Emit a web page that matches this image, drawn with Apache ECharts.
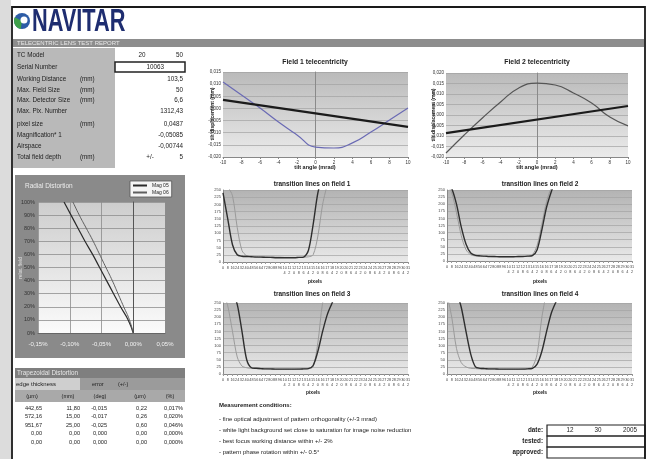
<!DOCTYPE html>
<html><head><meta charset="utf-8">
<script src="https://cdn.jsdelivr.net/npm/echarts@6/dist/echarts.min.js"></script>
<style>html,body{margin:0;padding:0;background:#fff}#c{width:650px;height:459px}</style>
</head><body><div id="c"></div>
<script>
const FONT = 'Liberation Sans';

// ---------- data ----------
const specLabels = ['TC Model','Serial Number','Working Distance','Max. Field Size','Max. Detector Size','Max. Pix. Number','pixel size','Magnification* 1','Airspace','Total field depth'];
const specUnits  = ['','','(mm)','(mm)','(mm)','','(mm)','','','(mm)'];
const specExtra  = ['20','','','','','','','','','+/-'];
const specValues = ['50','10063','103,5','50','6,6','1312,43','0,0487','-0,05085','-0,00744','5'];

const fieldPct = [0,10,20,30,40,50,60,70,80,90,100];
const radialA  = [0,-0.008,-0.020,-0.031,-0.042,-0.053,-0.064,-0.076,-0.087,-0.098,-0.109];
const radialB  = [0,-0.006,-0.015,-0.024,-0.033,-0.043,-0.053,-0.063,-0.074,-0.085,-0.095];
const radialNames = ['Mag 05','Mag 06'];

const tiltAngle   = [-10,-8,-6,-4,-2,0,2,4,6,8,10];
const field1Curve = [0.0109,0.0055,0.0002,-0.0056,-0.0109,-0.0159,-0.0163,-0.0142,-0.0097,-0.0048,0.0002];
const field1FitEnds = [0.0035,-0.0076];
const field2Curve = [-0.0181,-0.0095,-0.0014,0.0062,0.0129,0.0152,0.0143,0.0105,0.0057,-0.0010,-0.0052];
const field2FitEnds = [-0.0086,0.0043];

const pixelCats = [0,8,16,24,32,40,48,56,64,72,80,88,96,104,112,120,128,136,144,152,160,168,176,184,192,200,208,216,224,232,240,248,256,264,272,280,288,296,304,312];
const t1Dark  = [240,150,60,25,20,19,18,17,17,16,16,15,15,15,15,15,16,17,40,130,240,300];
const t1Light = [290,262,230,120,40,22,20,19,18,18,17,17,17,16,16,16,16,17,18,25,90,200,270];
const t2Dark  = [280,255,200,120,60,28,20,18,17,16,16,15,15,15,15,16,16,17,19,40,110,190,245,290];
const t2Light = [270,240,170,90,40,22,18,17,16,16,15,15,15,15,15,15,16,17,22,55,130,210,260,300];
const t3Dark  = [null,null,290,245,150,50,22,20,19,18,18,17,17,17,17,17,17,18,19,30,80,150,210,250,290];
const t3Light = [290,240,150,60,28,22,20,19,18,18,17,17,17,17,17,17,18,18,20,25,110,250,300];
const t4Dark  = [null,null,290,235,150,70,25,20,19,18,18,17,17,17,17,17,17,18,20,35,80,150,215,255,290];
const t4Light = [280,200,90,40,25,20,19,18,18,17,17,17,17,17,17,17,18,19,25,70,200,290];

const trapThickness = [442.65,572.16,951.67,0,0];
const trapEdge      = [11.80,15.00,25.00,0,0];
const trapAngle     = [-0.015,-0.017,-0.025,0,0];
const trapError     = [0.22,0.26,0.60,0,0];
const trapPct       = [0.017,0.020,0.046,0,0];

const conditions = ['Measurement conditions:',
 '- fine optical adjustment of pattern orthogonality (+/-3 mrad)',
 '- white light background set close to saturation for image noise reduction',
 '- best focus working distance within +/- 2%',
 '- pattern phase rotation within +/- 0.5\u00b0'];
const dateParts = ['12','30','2005'];

// ---------- helpers ----------
const comma = (v,d)=> (Math.abs(v) < 1e-12 ? 0 : v).toFixed(d).replace('.',',');
const g = [];
function txt(x,y,s,o){ g.push({type:'text', x:x, y:y, z:100, silent:true, style:Object.assign({text:s, fontFamily:FONT, fontSize:6, fill:'#222', align:'left', verticalAlign:'middle'}, o||{})}); }
function rect(x,y,w,h,style,z){ g.push({type:'rect', z:(z===undefined?-20:z), silent:true, shape:{x:x,y:y,width:w,height:h}, style:style}); }
function grad(a,b){ return {type:'linear',x:0,y:0,x2:0,y2:1,colorStops:[{offset:0,color:a},{offset:1,color:b}]}; }
const pairs = (xs,ys)=> xs.map((x,i)=>[x,ys[i]]);

// ---------- page decoration ----------
rect(0,0,11,459,{fill:'#dcdcdc'});
rect(12,7,633,460,{fill:'none',stroke:'#1a1a1a',lineWidth:1.8},50);
// logo
g.push({type:'circle', z:60, shape:{cx:22,cy:21,r:8}, style:{fill:'#2d5ca6'}});
g.push({type:'sector', z:61, shape:{cx:22,cy:21,r:8,r0:0,startAngle:Math.PI*0.55,endAngle:Math.PI*1.15}, style:{fill:'#3fa14a'}});
g.push({type:'circle', z:62, shape:{cx:24,cy:20,r:3.5}, style:{fill:'#ffffff'}});
g.push({type:'text', x:32, y:22, z:60, scaleX:0.68, style:{text:'NAVITAR', fontFamily:FONT, fontWeight:'bold', fontSize:32, fill:'#1e2d70', align:'left', verticalAlign:'middle'}});
rect(13,39,631,8,{fill:'#8d8d8d'});
txt(17,43.2,'TELECENTRIC LENS TEST REPORT',{fill:'#e8e8e8',fontSize:6});

// spec table
rect(13,48,102,120,{fill:'#b9b9b9'});
rect(115,62,70,10,{fill:'#ffffff',stroke:'#222',lineWidth:1.5},40);
const rowY = [55,67.5,79,90,100,111,124,135,146,157];
specLabels.forEach((l,i)=>{
  txt(17,rowY[i],l,{fontSize:6.3});
  if (specUnits[i]) txt(80,rowY[i],specUnits[i],{fontSize:6.3});
  if (specExtra[i]) txt(i===0?142:150,rowY[i],specExtra[i],{fontSize:6.3,align:'center'});
  txt(i===1?164:183,rowY[i],specValues[i],{fontSize:6.3,align:'right'});
});

// radial panel
rect(15,175,170,183,{fill:'#8a8a8a'});
txt(25,186,'Radial Distortion',{fill:'#ececec',fontSize:6.5});
txt(21,268,'relat. field',{fill:'#e0e0e0',fontSize:5,align:'center'});
g[g.length-1].rotation = Math.PI/2;

// telecentricity texts
txt(315,62,'Field 1 telecentricity',{fontSize:6.8,fontWeight:'bold',align:'center'});
txt(537,62,'Field 2 telecentricity',{fontSize:6.8,fontWeight:'bold',align:'center'});
txt(315,167,'tilt angle (mrad)',{fontSize:5.5,fontWeight:'bold',align:'center'});
txt(537,167,'tilt angle (mrad)',{fontSize:5.5,fontWeight:'bold',align:'center'});
txt(213,114,'tilt displacement (mm)',{fontSize:5,fontWeight:'bold',align:'center'});
g[g.length-1].rotation = Math.PI/2;
txt(434,115,'tilt displacement (mm)',{fontSize:5,fontWeight:'bold',align:'center'});
g[g.length-1].rotation = Math.PI/2;

// transition texts
txt(312,184,'transition lines on field 1',{fontSize:6.5,fontWeight:'bold',align:'center'});
txt(540,184,'transition lines on field 2',{fontSize:6.5,fontWeight:'bold',align:'center'});
txt(312,294,'transition lines on field 3',{fontSize:6.5,fontWeight:'bold',align:'center'});
txt(540,294,'transition lines on field 4',{fontSize:6.5,fontWeight:'bold',align:'center'});
txt(315,282,'pixels',{fontSize:5,fontWeight:'bold',align:'center'});
txt(540,282,'pixels',{fontSize:5,fontWeight:'bold',align:'center'});
txt(313,393,'pixels',{fontSize:5,fontWeight:'bold',align:'center'});
txt(540,393,'pixels',{fontSize:5,fontWeight:'bold',align:'center'});

// trapezoidal table
rect(15,368,170,10,{fill:'#7f7f7f'});
rect(15,378,65,12,{fill:'#cfcfcf'});
rect(80,378,105,12,{fill:'#9b9b9b'});
rect(15,390,170,12,{fill:'#a9a9a9'});
txt(17,373,'Trapezoidal Distortion',{fill:'#e6e6e6',fontSize:6.3});
txt(16,384,'edge thickness',{fontSize:6});
txt(92,384,'error',{fontSize:5.5});
txt(118,384,'(+/-)',{fontSize:5.5});
const unitX = [32,68,100,140,170];
['(\u00b5m)','(mm)','(deg)','(\u00b5m)','(%)'].forEach((u,i)=>txt(unitX[i],396,u,{fontSize:5.5,align:'center'}));
const colR = [42,80,107,147,183];
const tRowY = [408,416.5,425,433.5,442];
trapThickness.forEach((v,i)=>{
  txt(colR[0],tRowY[i],comma(v,2),{fontSize:5.6,align:'right'});
  txt(colR[1],tRowY[i],comma(trapEdge[i],2),{fontSize:5.6,align:'right'});
  txt(colR[2],tRowY[i],comma(trapAngle[i],3),{fontSize:5.6,align:'right'});
  txt(colR[3],tRowY[i],comma(trapError[i],2),{fontSize:5.6,align:'right'});
  txt(colR[4],tRowY[i],comma(trapPct[i],3)+'%',{fontSize:5.6,align:'right'});
});

// conditions
const condY = [405,419,430.5,441.5,452];
conditions.forEach((c,i)=>txt(219,condY[i],c,{fontSize:6,fontWeight:i===0?'bold':'normal'}));
txt(543,430.5,'date:',{fontSize:6.3,fontWeight:'bold',align:'right'});
txt(543,441.5,'tested:',{fontSize:6.3,fontWeight:'bold',align:'right'});
txt(543,452,'approved:',{fontSize:6.3,fontWeight:'bold',align:'right'});
rect(547,425,98,11,{fill:'none',stroke:'#222',lineWidth:1.2},40);
rect(547,436,98,11,{fill:'none',stroke:'#222',lineWidth:1.2},40);
rect(547,447,98,11,{fill:'none',stroke:'#222',lineWidth:1.2},40);
const dateX = [570,598,630];
dateParts.forEach((d,i)=>txt(dateX[i],430.5,d,{fontSize:6.3,align:'center'}));

// ---------- axes ----------
const tinyLab = {fontFamily:FONT,color:'#333'};
const grids = [
  {left:38,top:202,width:127,height:131,show:true,borderWidth:0,backgroundColor:grad('#cdcdcd','#fbfbfb')},
  {left:223,top:72,width:185,height:85,show:true,borderWidth:0,backgroundColor:grad('#bababa','#ebebeb')},
  {left:446,top:73,width:182,height:84,show:true,borderWidth:0,backgroundColor:grad('#bababa','#ebebeb')},
  {left:223,top:190,width:185,height:72,show:true,borderWidth:0,backgroundColor:grad('#b3b3b3','#e9e9e9')},
  {left:447,top:190,width:185,height:71,show:true,borderWidth:0,backgroundColor:grad('#b3b3b3','#e9e9e9')},
  {left:223,top:303,width:185,height:71,show:true,borderWidth:0,backgroundColor:grad('#b3b3b3','#e9e9e9')},
  {left:447,top:303,width:185,height:71,show:true,borderWidth:0,backgroundColor:grad('#b3b3b3','#e9e9e9')}
];
const xAxis = [
  {gridIndex:0,type:'value',min:-0.15,max:0.05,interval:0.05,axisLine:{onZero:false,lineStyle:{color:'#666'}},axisTick:{show:false},
   axisLabel:{fontFamily:FONT,fontSize:6,color:'#f2f2f2',margin:8,formatter:v=>comma(v,2)+'%'},splitLine:{show:true,lineStyle:{color:'#8c8c8c',width:0.8}}},
  {gridIndex:1,type:'value',min:-10,max:10,interval:2,axisLine:{onZero:false,lineStyle:{color:'#888'}},axisTick:{length:2,lineStyle:{color:'#888'}},
   axisLabel:Object.assign({fontSize:4.5,margin:3},tinyLab),splitLine:{show:false}},
  {gridIndex:2,type:'value',min:-10,max:10,interval:2,axisLine:{onZero:false,lineStyle:{color:'#888'}},axisTick:{length:2,lineStyle:{color:'#888'}},
   axisLabel:Object.assign({fontSize:4.5,margin:3},tinyLab),splitLine:{show:false}}
];
const yAxis = [
  {gridIndex:0,type:'value',min:0,max:100,interval:10,axisLine:{onZero:true,lineStyle:{color:'#555'}},axisTick:{show:false},
   axisLabel:{fontFamily:FONT,fontSize:5.5,color:'#333',margin:3,formatter:'{value}%'},splitLine:{lineStyle:{color:'#8e8e8e',width:0.8}}},
  {gridIndex:1,type:'value',min:-0.02,max:0.015,interval:0.005,axisLine:{onZero:true,lineStyle:{color:'#8a8a8a'}},axisTick:{show:false},
   axisLabel:Object.assign({fontSize:4.5,margin:2,formatter:v=>comma(v,3)},tinyLab),splitLine:{lineStyle:{color:'#a2a2a2',width:0.7}}},
  {gridIndex:2,type:'value',min:-0.02,max:0.02,interval:0.005,axisLine:{onZero:true,lineStyle:{color:'#8a8a8a'}},axisTick:{show:false},
   axisLabel:Object.assign({fontSize:4.5,margin:2,formatter:v=>comma(v,3)},tinyLab),splitLine:{lineStyle:{color:'#a2a2a2',width:0.7}}}
];
const catFmt = v => { const s = String(v); return s.length > 2 ? s.slice(0,2)+'\n'+s.slice(2) : s; };
for (let k=3;k<7;k++){
  xAxis.push({gridIndex:k,type:'category',data:pixelCats,boundaryGap:false,
    axisLine:{lineStyle:{color:'#888'}},axisTick:{length:2,interval:0,lineStyle:{color:'#999'}},
    axisLabel:{interval:0,fontFamily:FONT,fontSize:3.8,lineHeight:5,color:'#444',margin:3,hideOverlap:false,formatter:catFmt}});
  yAxis.push({gridIndex:k,type:'value',min:0,max:250,interval:25,axisLine:{show:true,lineStyle:{color:'#888'}},axisTick:{show:false},
    axisLabel:{fontFamily:FONT,fontSize:4,color:'#444',margin:2},splitLine:{lineStyle:{color:'#a4a4a4',width:0.7}}});
}

const tSeries = (data,xi,color,w)=>({type:'line',xAxisIndex:xi,yAxisIndex:xi,data:data,symbol:'none',smooth:0.3,clip:true,
  lineStyle:{color:color,width:w},itemStyle:{color:color},z:color==='#2e2e2e'?4:3});

const option = {
  animation:false,
  backgroundColor:'#ffffff',
  textStyle:{fontFamily:FONT},
  grid:grids, xAxis:xAxis, yAxis:yAxis,
  legend:{data:radialNames,left:130,top:181,orient:'vertical',itemWidth:14,itemHeight:2,itemGap:2,padding:[2,3],
    backgroundColor:'#f4f4f4',borderColor:'#555',borderWidth:0.8,borderRadius:0,icon:'rect',
    textStyle:{fontSize:5,color:'#222',fontFamily:FONT}},
  graphic:{elements:g},
  series:[
    {name:radialNames[0],type:'line',xAxisIndex:0,yAxisIndex:0,data:pairs(radialA,fieldPct),symbol:'none',smooth:true,lineStyle:{color:'#2a2a2a',width:1.2},itemStyle:{color:'#2a2a2a'}},
    {name:radialNames[1],type:'line',xAxisIndex:0,yAxisIndex:0,data:pairs(radialB,fieldPct),symbol:'none',smooth:true,lineStyle:{color:'#5e5e5e',width:1},itemStyle:{color:'#5e5e5e'}},
    {type:'line',xAxisIndex:1,yAxisIndex:1,data:pairs(tiltAngle,field1Curve),symbol:'none',smooth:true,lineStyle:{color:'#6a6ab4',width:1.2}},
    {type:'line',xAxisIndex:1,yAxisIndex:1,data:[[tiltAngle[0],field1FitEnds[0]],[tiltAngle[10],field1FitEnds[1]]],symbol:'none',lineStyle:{color:'#1b1b1b',width:2.2}},
    {type:'line',xAxisIndex:2,yAxisIndex:2,data:pairs(tiltAngle,field2Curve),symbol:'none',smooth:true,lineStyle:{color:'#555555',width:1.2}},
    {type:'line',xAxisIndex:2,yAxisIndex:2,data:[[tiltAngle[0],field2FitEnds[0]],[tiltAngle[10],field2FitEnds[1]]],symbol:'none',lineStyle:{color:'#1b1b1b',width:2.2}},
    tSeries(t1Light,3,'#9a9a9a',1), tSeries(t1Dark,3,'#2e2e2e',1.4),
    tSeries(t2Light,4,'#9a9a9a',1), tSeries(t2Dark,4,'#2e2e2e',1.4),
    tSeries(t3Light,5,'#9a9a9a',1), tSeries(t3Dark,5,'#2e2e2e',1.4),
    tSeries(t4Light,6,'#9a9a9a',1), tSeries(t4Dark,6,'#2e2e2e',1.4)
  ]
};
const chart = echarts.init(document.getElementById('c'));
chart.setOption(option);
</script>
</body></html>
